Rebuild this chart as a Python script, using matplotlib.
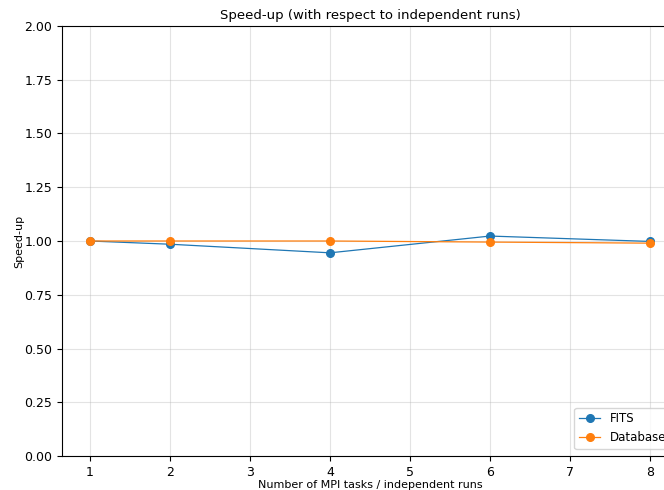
import numpy as np
import matplotlib.pyplot as plt

# dati
tasks = [1, 2, 4, 6, 8]
fits = [1.0, 0.985, 0.945, 1.023, 0.998]
database = [1.0, 1.0, 1.0, 0.995, 0.99]

fig = plt.figure(figsize=(6.64, 4.9), dpi=100)
# l'asse esce leggermente a destra, come nell'immagine originale
ax = fig.add_axes([62/664, 34/490, 616/664, 430/490])

ax.plot(tasks, fits, marker='o', lw=0.9, ms=5.5, label='FITS')
ax.plot(tasks, database, marker='o', lw=0.9, ms=5.5, label='Database')

ax.set_xlim(0.65, 8.35)
ax.set_ylim(0, 2)
ax.set_xticks(range(1, 9))
ax.set_yticks(np.arange(0, 2.01, 0.25))
ax.tick_params(labelsize=9)
ax.grid(alpha=0.35)

ax.set_title('Speed-up (with respect to independent runs)', fontsize=9.5, pad=5)
ax.set_xlabel('Number of MPI tasks / independent runs', fontsize=8, labelpad=1)
ax.set_ylabel('Speed-up', fontsize=8, labelpad=0)
ax.legend(loc='lower right', fontsize=8.5, borderaxespad=0.6, handlelength=1.8)

fig.savefig('out.png', dpi=100)
